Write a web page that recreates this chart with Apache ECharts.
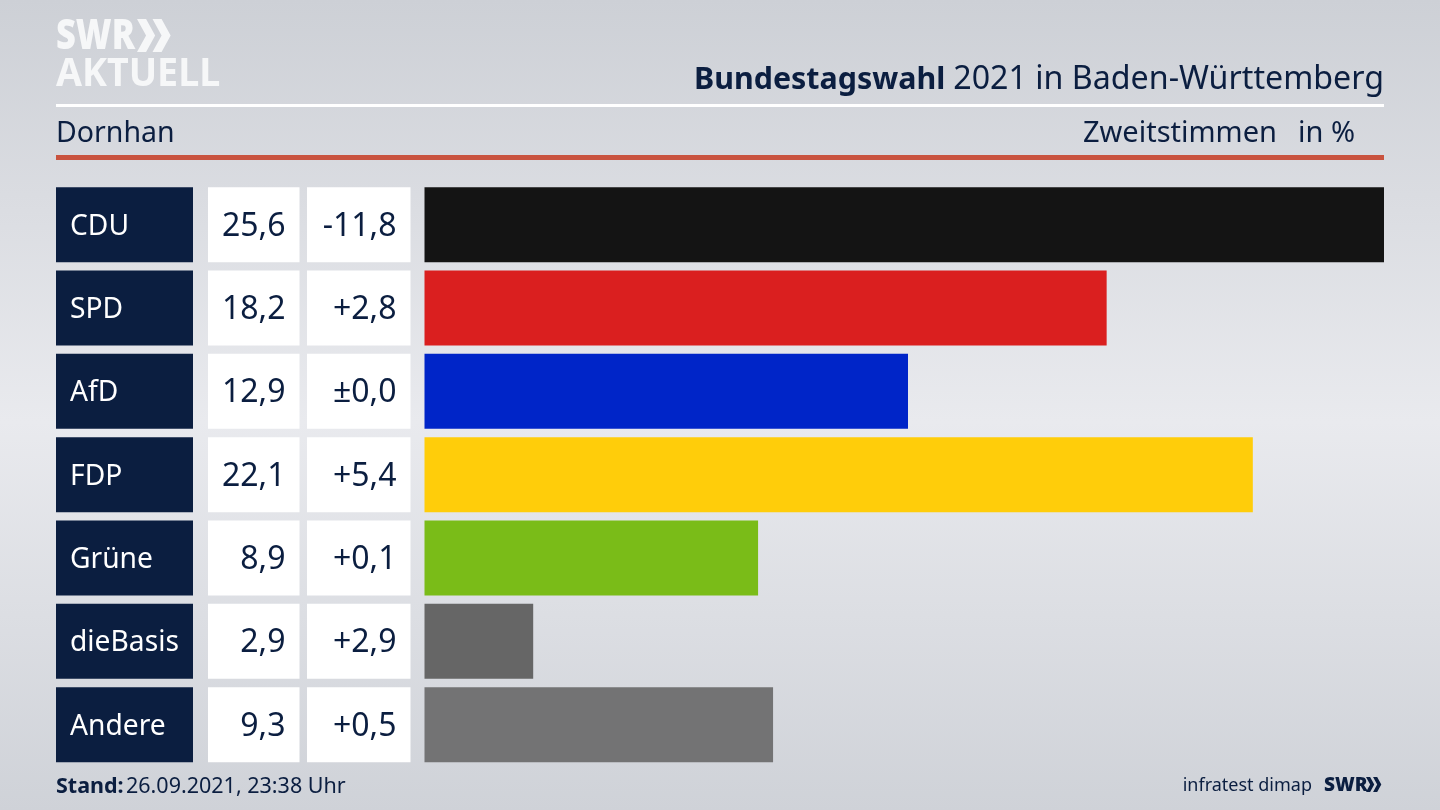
<!DOCTYPE html>
<html>
<head>
<meta charset="utf-8">
<style>html,body{margin:0;padding:0}#chart{width:1440px;height:810px}</style>
<script src="https://cdn.jsdelivr.net/npm/echarts@6/dist/echarts.min.js"></script>
</head>
<body>
<div id="chart"></div>
<script>
// Werte
var parties = ['CDU', 'SPD', 'AfD', 'FDP', 'Grüne', 'dieBasis', 'Andere'];
var shares = [25.6, 18.2, 12.9, 22.1, 8.9, 2.9, 9.3];
var shareLabels = ['25,6', '18,2', '12,9', '22,1', '8,9', '2,9', '9,3'];
var changeLabels = ['-11,8', '+2,8', '±0,0', '+5,4', '+0,1', '+2,9', '+0,5'];
var partyColors = ['#141414', '#da1f1f', '#0025c8', '#ffcd0a', '#7abc18', '#666666', '#737374'];

var NAVY = '#0b1e40';
var FONT = '"Noto Sans", "Open Sans", sans-serif';
var ROW_TOP = 183;
var ROW_HEIGHT = 583.3;
var BAR_H = 75;

// Tabellenspalten: je ein eigenes Grid mit Balken ueber die volle Breite
var columns = [
    {left: 56, width: 137, fill: NAVY, color: '#fff', labels: parties, pos: 'insideLeft'},
    {left: 208, width: 91.5, fill: '#fff', color: NAVY, labels: shareLabels, pos: 'insideRight'},
    {left: 307, width: 103.5, fill: '#fff', color: NAVY, labels: changeLabels, pos: 'insideRight'}
];

var grids = [], xAxes = [], yAxes = [], series = [];
columns.forEach(function (col, i) {
    grids.push({left: col.left, width: col.width, top: ROW_TOP, height: ROW_HEIGHT});
    xAxes.push({gridIndex: i, type: 'value', min: 0, max: 1, show: false});
    yAxes.push({gridIndex: i, type: 'category', inverse: true, data: parties, show: false});
    series.push({
        type: 'bar', xAxisIndex: i, yAxisIndex: i, barWidth: BAR_H, silent: true,
        itemStyle: {color: col.fill},
        label: {
            show: true, position: col.pos, distance: 14, offset: [0, 2],
            color: col.color, fontFamily: FONT, fontSize: i == 0 ? 28.2 : 32,
            formatter: function (p) { return col.labels[p.dataIndex]; }
        },
        data: parties.map(function () { return 1; })
    });
});

// eigentliche Balken
grids.push({left: 424.5, width: 959.5, top: ROW_TOP, height: ROW_HEIGHT});
xAxes.push({gridIndex: 3, type: 'value', min: 0, max: 25.6, show: false});
yAxes.push({gridIndex: 3, type: 'category', inverse: true, data: parties, show: false});
series.push({
    type: 'bar', name: 'Zweitstimmen', xAxisIndex: 3, yAxisIndex: 3, barWidth: BAR_H, silent: true,
    data: shares.map(function (v, i) {
        return {value: v, itemStyle: {color: partyColors[i]}};
    })
});

function txt(x, y, text, size, align, weight, color, scaleX) {
    return {
        type: 'text', x: x, y: y, scaleX: scaleX || 1, silent: true,
        style: {
            text: text, fontSize: size, fontFamily: FONT, fontWeight: weight || 'normal',
            fill: color || NAVY, align: align || 'left', verticalAlign: 'middle'
        }
    };
}
function chevrons(x, y, h, color) {
    var w = h * 0.5;
    var out = [];
    [0, h * 0.47].forEach(function (dx) {
        out.push({
            type: 'polygon', silent: true,
            shape: {points: [[x + dx, y], [x + dx + w * 0.55, y], [x + dx + w * 0.55 + w * 0.55, y + h / 2],
                [x + dx + w * 0.55, y + h], [x + dx, y + h], [x + dx + w * 0.55, y + h / 2]]},
            style: {fill: color}
        });
    });
    return out;
}

var graphics = [
    {type: 'rect', silent: true, shape: {x: 56, y: 104, width: 1328, height: 3}, style: {fill: '#fff'}},
    {type: 'rect', silent: true, shape: {x: 56, y: 155, width: 1328, height: 5}, style: {fill: '#c9533f'}},
    txt(56, 37, 'SWR', 42, 'left', 900, '#f6f7f8', 0.82),
    txt(56, 75, 'AKTUELL', 40, 'left', 700, '#f6f7f8', 0.94),
    txt(56, 134, 'Dornhan', 28.5),
    txt(1277, 134, 'Zweitstimmen', 29, 'right'),
    txt(1355, 134, 'in %', 29, 'right'),
    txt(56, 787, 'Stand:', 21.5, 'left', 700),
    txt(126, 787, '26.09.2021, 23:38 Uhr', 21.5),
    txt(1312, 786, 'infratest dimap', 18, 'right'),
    txt(1324, 786, 'SWR', 19, 'left', 900)
].concat(chevrons(137, 19, 33, '#f6f7f8'), chevrons(1366, 777, 15, NAVY));

var myChart = echarts.init(document.getElementById('chart'));
myChart.setOption({
    animation: false,
    backgroundColor: {
        type: 'linear', x: 0, y: 0, x2: 0, y2: 1,
        colorStops: [
            {offset: 0, color: '#cdd0d6'},
            {offset: 0.52, color: '#e9eaee'},
            {offset: 1, color: '#cfd2d8'}
        ]
    },
    title: {
        right: 51, top: 59,
        text: '{b|Bundestagswahl} {r|2021 in Baden-Württemberg}',
        textStyle: {
            fontWeight: 'normal',
            rich: {
                b: {fontSize: 30.4, fontWeight: 700, color: NAVY, fontFamily: FONT},
                r: {fontSize: 32.2, fontWeight: 'normal', color: NAVY, fontFamily: FONT, padding: [0, 0, 0, 3]}
            }
        }
    },
    grid: grids,
    xAxis: xAxes,
    yAxis: yAxes,
    series: series,
    graphic: graphics
});
</script>
</body>
</html>
